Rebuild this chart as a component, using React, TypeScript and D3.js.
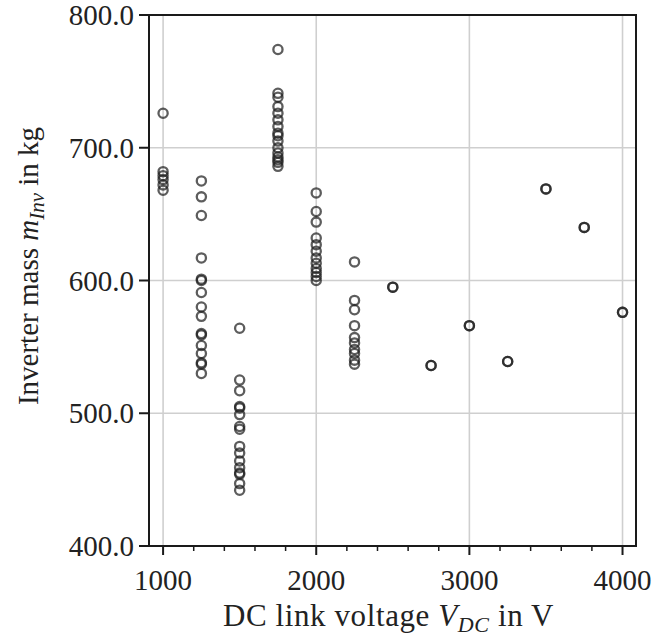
import React from "react";
import * as d3 from "d3";

const voltages = [1000, 1250, 1500, 1750, 2000, 2250, 2500, 2750, 3000, 3250, 3500, 3750, 4000];
const mass1000 = [726, 682, 679, 676, 672, 668];
const mass1250 = [675, 663, 649, 617, 601, 600, 591, 580, 573, 560, 559, 551, 545, 538, 537, 530];
const mass1500 = [564, 525, 517, 505, 504, 499, 490, 488, 475, 470, 464, 459, 455, 454, 447, 442];
const mass1750 = [774, 741, 738, 731, 726, 721, 716, 711, 709, 705, 700, 696, 693, 691, 689, 686];
const mass2000 = [666, 652, 644, 632, 627, 622, 617, 613, 609, 606, 603, 600];
const mass2250 = [614, 585, 578, 566, 557, 553, 548, 545, 540, 537];
const mass2500 = [595, 595];
const mass2750 = [536, 536];
const mass3000 = [566, 566];
const mass3250 = [539, 539];
const mass3500 = [669, 669];
const mass3750 = [640, 640];
const mass4000 = [576, 576];
const massGroups = [mass1000, mass1250, mass1500, mass1750, mass2000, mass2250, mass2500, mass2750, mass3000, mass3250, mass3500, mass3750, mass4000];

const xTicks = [1000, 2000, 3000, 4000];
const xMinorTicks = [1200, 1400, 1600, 1800, 2200, 2400, 2600, 2800, 3200, 3400, 3600, 3800];
const yTicks = [400, 500, 600, 700, 800];

const W = 667;
const H = 637;
const L = 149, R = 636, T = 15, B = 546;
const FONT = "'Liberation Serif', 'Times New Roman', serif";

export default function App() {
  const x = d3.scaleLinear().domain([908, 4088]).range([L, R]);
  const y = d3.scaleLinear().domain([400, 800]).range([B, T]);
  const points = voltages.flatMap((v, i) => massGroups[i].map((m) => ({ v, m })));
  return (
    <svg width={W} height={H} style={{ position: "absolute", left: 0, top: 0, background: "#fff" }}>
      <rect x={0} y={0} width={W} height={H} fill="#fff" />
      {xTicks.map((t) => (
        <line key={"gx" + t} x1={x(t)} x2={x(t)} y1={T} y2={B} stroke="#cfcfcf" strokeWidth={1.6} />
      ))}
      {yTicks.map((t) => (
        <line key={"gy" + t} x1={L} x2={R} y1={y(t)} y2={y(t)} stroke="#cfcfcf" strokeWidth={1.6} />
      ))}
      {points.map((p, i) => (
        <circle key={i} cx={x(p.v)} cy={y(p.m)} r={4.6} fill="none" stroke="#1e1e1e" strokeOpacity={0.72} strokeWidth={2.3} />
      ))}
      <rect x={L} y={T} width={R - L} height={B - T} fill="none" stroke="#1a1a1a" strokeWidth={2} />
      {xTicks.map((t) => (
        <g key={"tx" + t}>
          <line x1={x(t)} x2={x(t)} y1={B} y2={B + 9} stroke="#1a1a1a" strokeWidth={2} />
          <text x={x(t)} y={590} textAnchor="middle" fontFamily={FONT} fontSize={29} fill="#222">
            {t}
          </text>
        </g>
      ))}
      {xMinorTicks.map((t) => (
        <line key={"mx" + t} x1={x(t)} x2={x(t)} y1={B} y2={B + 5} stroke="#1a1a1a" strokeWidth={1.5} />
      ))}
      {yTicks.map((t) => (
        <g key={"ty" + t}>
          <line x1={L - 10} x2={L} y1={y(t)} y2={y(t)} stroke="#1a1a1a" strokeWidth={2} />
          <text x={134} y={y(t) + 10} textAnchor="end" fontFamily={FONT} fontSize={29} fill="#222">
            {d3.format(".1f")(t)}
          </text>
        </g>
      ))}
      <text x={(L + R) / 2 - 4} y={626} textAnchor="middle" fontFamily={FONT} fontSize={31} letterSpacing={0.6} fill="#222">
        DC link voltage <tspan fontStyle="italic">V</tspan>
        <tspan fontStyle="italic" fontSize={22} dy={6}>DC</tspan>
        <tspan dy={-6}> in V</tspan>
      </text>
      <text transform={`translate(38, 266) rotate(-90)`} textAnchor="middle" fontFamily={FONT} fontSize={29} fill="#222">
        Inverter mass <tspan fontStyle="italic">m</tspan>
        <tspan fontStyle="italic" fontSize={21} dy={6}>Inv</tspan>
        <tspan dy={-6}> in kg</tspan>
      </text>
    </svg>
  );
}
